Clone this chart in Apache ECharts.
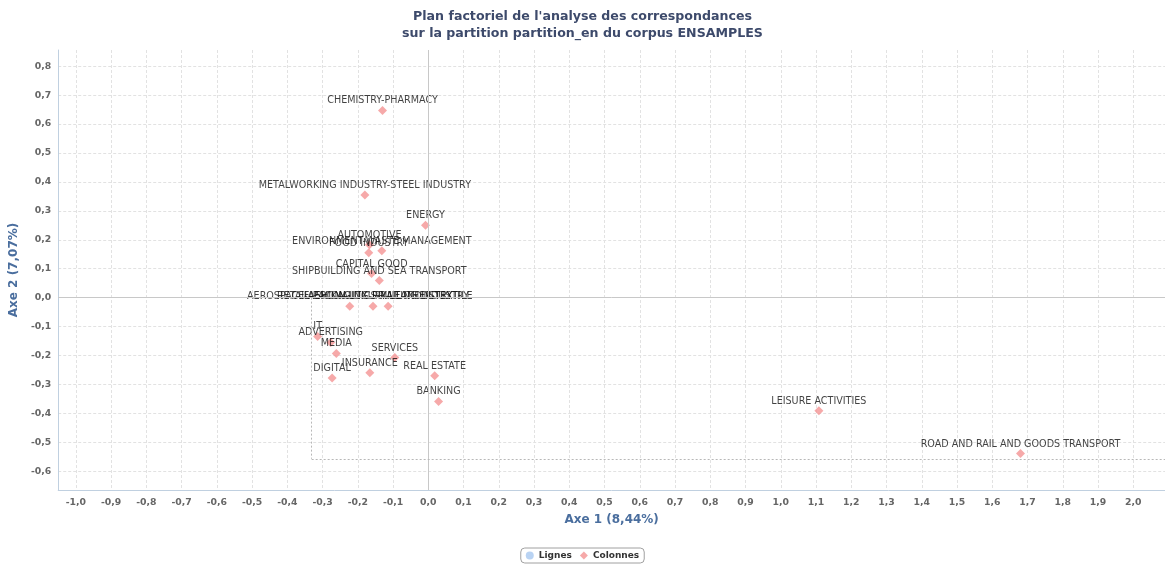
<!DOCTYPE html>
<html>
<head>
<meta charset="utf-8">
<script src="https://cdn.jsdelivr.net/npm/echarts@6/dist/echarts.min.js"></script>
<style>html,body{margin:0;padding:0;background:#fff}#c{width:1165px;height:564px}</style>
</head>
<body>
<div id="c"></div>
<script>
const titleLines = ["Plan factoriel de l'analyse des correspondances", "sur la partition partition_en du corpus ENSAMPLES"];
const xAxisName = "Axe 1 (8,44%)";
const yAxisName = "Axe 2 (7,07%)";
const xTicks = [-1.0, -0.9, -0.8, -0.7, -0.6, -0.5, -0.4, -0.3, -0.2, -0.1, 0.0, 0.1, 0.2, 0.3, 0.4, 0.5, 0.6, 0.7, 0.8, 0.9, 1.0, 1.1, 1.2, 1.3, 1.4, 1.5, 1.6, 1.7, 1.8, 1.9, 2.0];
const yTicks = [-0.6, -0.5, -0.4, -0.3, -0.2, -0.1, 0.0, 0.1, 0.2, 0.3, 0.4, 0.5, 0.6, 0.7, 0.8];
const categories = [
  "CHEMISTRY-PHARMACY",
  "METALWORKING INDUSTRY-STEEL INDUSTRY",
  "ENERGY",
  "AUTOMOTIVE",
  "FOOD INDUSTRY",
  "ENVIRONMENT-WASTE MANAGEMENT",
  "CAPITAL GOOD",
  "SHIPBUILDING AND SEA TRANSPORT",
  "AEROSPACE-AERONAUTICS-RAIL INDUSTRY",
  "RETAIL-PACKAGING-PRINTING INDUSTRY",
  "FASHION-LUXURY-LEATHER-TEXTILE",
  "IT",
  "ADVERTISING",
  "MEDIA",
  "SERVICES",
  "DIGITAL",
  "INSURANCE",
  "REAL ESTATE",
  "BANKING",
  "LEISURE ACTIVITIES",
  "ROAD AND RAIL AND GOODS TRANSPORT"
];
const axe1 = [-0.130, -0.180, -0.008, -0.167, -0.169, -0.132, -0.161, -0.139, -0.223, -0.157, -0.114, -0.314, -0.277, -0.261, -0.095, -0.273, -0.166, 0.018, 0.029, 1.108, 1.680];
const axe2 = [0.647, 0.355, 0.250, 0.183, 0.155, 0.162, 0.083, 0.059, -0.030, -0.030, -0.030, -0.134, -0.155, -0.193, -0.207, -0.278, -0.260, -0.270, -0.359, -0.391, -0.539];
const lignesX = [];
const lignesY = [];
const fmt = v => v.toFixed(1).replace('.', ',');

const chart = echarts.init(document.getElementById('c'), null, {renderer: 'canvas'});
const colonnes = categories.map((c, i) => ({name: c, value: [axe1[i], axe2[i]]}));
const lignes = lignesX.map((x, i) => [x, lignesY[i]]);
const font = 'DejaVu Sans, sans-serif';
const yMin = -0.665, yMax = 0.856, xMin = -1.05, xMax = 2.09;

chart.setOption({
  animation: false,
  title: {
    text: titleLines.join('\n'),
    left: 'center', top: 3,
    textStyle: {fontFamily: font, fontSize: 12.6, fontWeight: 'bold', color: '#3d4a6b', lineHeight: 17}
  },
  legend: {
    bottom: 1, left: 'center',
    data: [{name: 'Lignes', icon: 'circle'}, {name: 'Colonnes', icon: 'diamond'}],
    itemWidth: 8, itemHeight: 8, itemGap: 8,
    borderColor: '#a0a0a0', borderWidth: 1, borderRadius: 4, padding: [3, 5],
    textStyle: {fontFamily: font, fontSize: 9, fontWeight: 'bold', color: '#333'}
  },
  grid: {left: 57, right: 0, top: 50, bottom: 74, containLabel: false},
  xAxis: {
    type: 'value', min: xMin, max: xMax,
    name: xAxisName, nameLocation: 'middle', nameGap: 24,
    nameTextStyle: {fontFamily: font, fontSize: 12, fontWeight: 'bold', color: '#4a6e9e'},
    axisLine: {show: true, onZero: false, lineStyle: {color: '#c0d0e0'}},
    axisTick: {show: false, customValues: xTicks},
    axisLabel: {customValues: xTicks, fontFamily: font, fontSize: 9.3, fontWeight: 'bold', color: '#666', margin: 8,
      formatter: v => fmt(v)},
    splitLine: {show: true, lineStyle: {color: '#e2e2e2', type: [3, 2]}}
  },
  yAxis: {
    type: 'value', min: yMin, max: yMax,
    name: yAxisName, nameLocation: 'middle', nameGap: 31,
    nameTextStyle: {fontFamily: font, fontSize: 12, fontWeight: 'bold', color: '#4a6e9e'},
    axisLine: {show: true, onZero: false, lineStyle: {color: '#c0d0e0'}},
    axisTick: {show: false, customValues: yTicks},
    axisLabel: {customValues: yTicks, fontFamily: font, fontSize: 9.3, fontWeight: 'bold', color: '#666', margin: 7,
      formatter: v => fmt(v)},
    splitLine: {show: true, lineStyle: {color: '#e2e2e2', type: [3, 2]}}
  },
  series: [
    {
      name: 'Lignes', type: 'scatter', data: lignes,
      itemStyle: {color: '#a8c8f0'}, symbol: 'circle', symbolSize: 7
    },
    {
      name: 'Colonnes', type: 'scatter', data: colonnes,
      symbol: 'diamond', symbolSize: 9,
      itemStyle: {color: '#f49494'},
      label: {show: true, position: 'top', distance: 0, formatter: p => p.name,
        fontFamily: font, fontSize: 9.6, color: '#111'},
      markLine: {
        silent: true, symbol: 'none', animation: false,
        label: {show: false},
        data: [
          [{coord: [0, yMin]}, {coord: [0, yMax]}],
          [{coord: [xMin, 0]}, {coord: [xMax, 0]}]
        ],
        lineStyle: {color: '#c8c8c8', type: 'solid', width: 1}
      },
      z: 3
    },
    {
      name: 'sel', type: 'scatter', data: [], silent: true,
      markLine: {
        silent: true, symbol: 'none', animation: false, label: {show: false},
        lineStyle: {color: '#b8b8b8', type: [2, 2], width: 1},
        data: [
          [{coord: [-0.331, 0]}, {coord: [-0.331, -0.557]}],
          [{coord: [-0.331, -0.557]}, {coord: [xMax, -0.557]}]
        ]
      }
    }
  ]
});
</script>
</body>
</html>
